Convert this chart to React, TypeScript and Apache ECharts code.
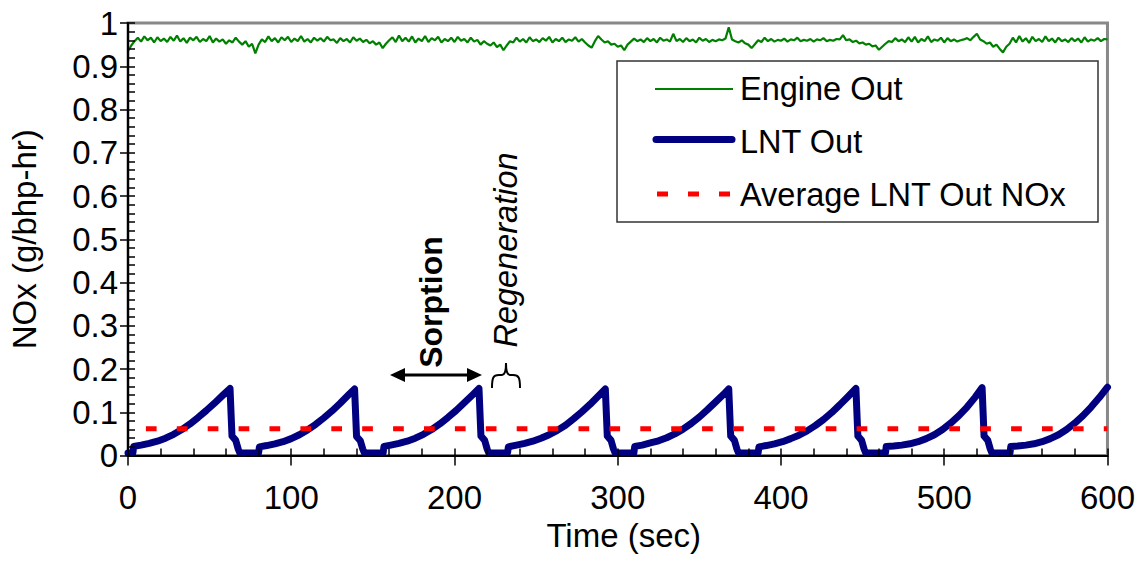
import React, { useEffect, useRef } from "react";
import * as echarts from "echarts";

// ---------- data ----------
const X_MIN = 0;
const X_MAX = 600;
const X_INTERVAL = 100;
const Y_MIN = 0;
const Y_MAX = 1;
const Y_INTERVAL = 0.1;

const SERIES_NAMES = ["Engine Out", "LNT Out", "Average LNT Out NOx"];

// Engine-out NOx, sampled every ENGINE_STEP seconds from t = 0
const ENGINE_STEP = 2;
const ENGINE_OUT = [
  0.935, 0.948, 0.958, 0.966, 0.957, 0.969, 0.960, 0.966, 0.955, 0.967,
  0.958, 0.964, 0.956, 0.968, 0.959, 0.971, 0.957, 0.965, 0.954, 0.966,
  0.960, 0.968, 0.956, 0.963, 0.958, 0.970, 0.955, 0.964, 0.957, 0.962,
  0.952, 0.960, 0.955, 0.966, 0.957, 0.950, 0.958, 0.945, 0.952, 0.930,
  0.950, 0.962, 0.956, 0.969, 0.958, 0.965, 0.955, 0.967, 0.960, 0.968,
  0.956, 0.964, 0.958, 0.970, 0.957, 0.963, 0.955, 0.966, 0.959, 0.965,
  0.957, 0.968, 0.960, 0.962, 0.954, 0.965, 0.958, 0.963, 0.955, 0.967,
  0.959, 0.964, 0.956, 0.961, 0.953, 0.958, 0.950, 0.955, 0.942, 0.952,
  0.960, 0.967, 0.956, 0.971, 0.958, 0.966, 0.957, 0.969, 0.955, 0.964,
  0.958, 0.970, 0.956, 0.965, 0.960, 0.968, 0.955, 0.963, 0.958, 0.966,
  0.956, 0.968, 0.959, 0.963, 0.955, 0.966, 0.957, 0.961, 0.950, 0.958,
  0.952, 0.948, 0.955, 0.944, 0.950, 0.937, 0.948, 0.958, 0.955, 0.966,
  0.957, 0.963, 0.955, 0.967, 0.958, 0.962, 0.956, 0.965, 0.959, 0.968,
  0.955, 0.963, 0.958, 0.966, 0.956, 0.962, 0.959, 0.967, 0.957, 0.963,
  0.955, 0.948, 0.943, 0.958, 0.970, 0.962, 0.955, 0.958, 0.950, 0.952,
  0.945, 0.948, 0.937, 0.950, 0.957, 0.964, 0.958, 0.962, 0.956, 0.965,
  0.958, 0.963, 0.955, 0.966, 0.959, 0.962, 0.957, 0.975, 0.958, 0.963,
  0.956, 0.965, 0.958, 0.962, 0.955, 0.966, 0.959, 0.963, 0.956, 0.961,
  0.958, 0.962, 0.960, 0.964, 0.990, 0.962, 0.958, 0.955, 0.960, 0.953,
  0.950, 0.942, 0.951, 0.960, 0.956, 0.966, 0.958, 0.963, 0.957, 0.961,
  0.959, 0.964, 0.957, 0.962, 0.960, 0.966, 0.958, 0.961, 0.959, 0.963,
  0.957, 0.962, 0.960, 0.965, 0.958, 0.961, 0.959, 0.963, 0.962, 0.972,
  0.960, 0.962, 0.956, 0.959, 0.953, 0.955, 0.950, 0.952, 0.946, 0.948,
  0.938, 0.945, 0.952, 0.958, 0.956, 0.965, 0.958, 0.962, 0.956, 0.967,
  0.957, 0.968, 0.955, 0.963, 0.958, 0.969, 0.956, 0.962, 0.959, 0.966,
  0.955, 0.965, 0.958, 0.962, 0.957, 0.960, 0.962, 0.965, 0.960, 0.968,
  0.975, 0.962, 0.958, 0.952, 0.955, 0.945, 0.950, 0.940, 0.932, 0.945,
  0.952, 0.966, 0.955, 0.970, 0.957, 0.965, 0.954, 0.968, 0.958, 0.963,
  0.956, 0.969, 0.958, 0.964, 0.955, 0.966, 0.958, 0.962, 0.956, 0.965,
  0.958, 0.964, 0.955, 0.967, 0.957, 0.962, 0.959, 0.965, 0.958, 0.963,
  0.962,
];

// LNT-out NOx, [time s, value] for each sorption / regeneration cycle
const LNT_CYCLE_1 = [
  [0, 0.006], [3, 0.006], [3.5, 0.021], [8, 0.024], [13, 0.028], [18, 0.033],
  [23, 0.040], [28, 0.049], [33, 0.060], [38, 0.073], [43, 0.088], [48, 0.104],
  [53, 0.121], [58, 0.139], [62.5, 0.155], [63.7, 0.045], [66, 0.035], [67.5, 0.015], [68.5, 0.006],
];
const LNT_CYCLE_2 = [
  [80, 0.006], [80.5, 0.020], [85, 0.023], [90, 0.027], [95, 0.032], [100, 0.039],
  [105, 0.048], [110, 0.059], [115, 0.072], [120, 0.087], [125, 0.103], [130, 0.121],
  [135, 0.140], [138.8, 0.154], [140, 0.044], [142.3, 0.034], [143.8, 0.015], [144.8, 0.006],
];
const LNT_CYCLE_3 = [
  [156.3, 0.006], [156.8, 0.021], [161, 0.024], [166, 0.028], [171, 0.033], [176, 0.040],
  [181, 0.049], [186, 0.060], [191, 0.073], [196, 0.088], [201, 0.104], [206, 0.122],
  [211, 0.140], [215, 0.155], [216.2, 0.045], [218.5, 0.035], [220, 0.015], [221, 0.006],
];
const LNT_CYCLE_4 = [
  [232.5, 0.006], [233, 0.020], [238, 0.024], [243, 0.028], [248, 0.033], [253, 0.040],
  [258, 0.048], [263, 0.058], [268, 0.070], [273, 0.085], [278, 0.101], [283, 0.118],
  [288, 0.137], [292.4, 0.154], [293.6, 0.045], [295.9, 0.035], [297.4, 0.015], [298.4, 0.006],
];
const LNT_CYCLE_5 = [
  [309.9, 0.006], [310.4, 0.021], [315, 0.024], [320, 0.029], [325, 0.034], [330, 0.041],
  [335, 0.050], [340, 0.061], [345, 0.074], [350, 0.089], [355, 0.106], [360, 0.124],
  [365, 0.142], [368, 0.154], [369.2, 0.045], [371.5, 0.035], [373, 0.015], [374, 0.006],
];
const LNT_CYCLE_6 = [
  [386, 0.006], [386.5, 0.020], [391, 0.023], [396, 0.027], [401, 0.032], [406, 0.039],
  [411, 0.047], [416, 0.057], [421, 0.069], [426, 0.083], [431, 0.099], [436, 0.117],
  [441, 0.136], [445.9, 0.155], [447.1, 0.045], [449.4, 0.035], [450.9, 0.015], [451.9, 0.006],
];
const LNT_CYCLE_7 = [
  [464, 0.006], [464.5, 0.021], [469, 0.022], [474, 0.024], [479, 0.027], [484, 0.032],
  [489, 0.039], [494, 0.048], [499, 0.060], [504, 0.075], [509, 0.092], [514, 0.112],
  [519, 0.135], [523.2, 0.157], [524.4, 0.045], [526.7, 0.035], [528.2, 0.015], [529.2, 0.006],
];
const LNT_CYCLE_8 = [
  [540.3, 0.006], [540.8, 0.021], [545, 0.022], [550, 0.024], [555, 0.027], [560, 0.032],
  [565, 0.039], [570, 0.048], [575, 0.060], [580, 0.075], [585, 0.092], [590, 0.112],
  [595, 0.134], [600, 0.158],
];
const LNT_CYCLES = [
  LNT_CYCLE_1, LNT_CYCLE_2, LNT_CYCLE_3, LNT_CYCLE_4,
  LNT_CYCLE_5, LNT_CYCLE_6, LNT_CYCLE_7, LNT_CYCLE_8,
];

// Average LNT-out NOx
const AVERAGE_LNT_OUT = 0.062;

// ---------- styling ----------
const FONT = "'Liberation Sans', Arial, Helvetica, sans-serif";
const GREEN = "#008000";
const NAVY = "#000080";
const RED = "#FF0000";

export default function App() {
  const ref = useRef<HTMLDivElement>(null);

  useEffect(() => {
    document.body.style.margin = "0";
    if (!ref.current) return;
    const chart = echarts.init(ref.current, null, { renderer: "svg" });

    const engineData = ENGINE_OUT.map((v, i) => [i * ENGINE_STEP, v]);
    const lntData: number[][] = [];
    LNT_CYCLES.forEach((c) => c.forEach((p) => lntData.push(p)));
    const avgData = [
      [X_MIN, AVERAGE_LNT_OUT],
      [X_MAX, AVERAGE_LNT_OUT],
    ];

    echarts.graphic.registerShape(
      "brace",
      echarts.graphic.extendPath(
        "M0,25 C0,15 1,12 7,12 L10,12 C13,12 14,8 14,0 C14,8 15,12 18,12 L21,12 C27,12 28,15 28,25",
        {}
      )
    );

    const tickLine = { color: "#000", width: 1.5 };
    const labelStyle = { color: "#000", fontSize: 33, fontFamily: FONT };
    const nameStyle = { color: "#000", fontSize: 33, fontFamily: FONT };
    const legendText = { fill: "#000", fontSize: 32.5, fontFamily: FONT, align: "left", verticalAlign: "middle" };

    const option: any = {
      animation: false,
      backgroundColor: "#fff",
      grid: {
        left: 127.5,
        right: 29,
        top: 23,
        bottom: 108.5,
        show: true,
        borderColor: "#888",
        borderWidth: 3,
        backgroundColor: "transparent",
      },
      xAxis: [
        {
          type: "value",
          min: X_MIN,
          max: X_MAX,
          interval: X_INTERVAL,
          position: "bottom",
          axisLine: { show: true, lineStyle: { color: "#000", width: 2 } },
          axisTick: { show: true, inside: true, length: 7, lineStyle: tickLine },
          minorTick: { show: true, splitNumber: 5, length: 7, lineStyle: tickLine },
          axisLabel: { show: false },
          splitLine: { show: false },
          minorSplitLine: { show: false },
          name: "Time (sec)",
          nameLocation: "middle",
          nameGap: 63,
          nameTextStyle: { ...nameStyle, padding: [0, 0, 0, 12] },
          z: 5,
        },
        {
          type: "value",
          min: X_MIN,
          max: X_MAX,
          interval: X_INTERVAL,
          position: "bottom",
          axisLine: { show: false },
          axisTick: { show: true, inside: false, length: 10, lineStyle: tickLine },
          axisLabel: { show: true, margin: 25, ...labelStyle },
          splitLine: { show: false },
          z: 5,
        },
      ],
      yAxis: [
        {
          type: "value",
          min: Y_MIN,
          max: Y_MAX,
          interval: Y_INTERVAL,
          position: "left",
          axisLine: { show: true, lineStyle: { color: "#000", width: 2 } },
          axisTick: { show: true, inside: true, length: 7, lineStyle: tickLine },
          minorTick: { show: true, splitNumber: 5, length: 7, lineStyle: tickLine },
          axisLabel: { show: false },
          splitLine: { show: false },
          minorSplitLine: { show: false },
          name: "NOx (g/bhp-hr)",
          nameLocation: "middle",
          nameGap: 87,
          nameTextStyle: nameStyle,
          z: 5,
        },
        {
          type: "value",
          min: Y_MIN,
          max: Y_MAX,
          interval: Y_INTERVAL,
          position: "left",
          axisLine: { show: false },
          axisTick: { show: true, inside: false, length: 8, lineStyle: tickLine },
          axisLabel: { show: true, margin: 10, ...labelStyle },
          splitLine: { show: false },
          z: 5,
        },
      ],
      series: [
        {
          name: SERIES_NAMES[0],
          type: "line",
          data: engineData,
          showSymbol: false,
          symbol: "none",
          lineStyle: { color: GREEN, width: 2.2 },
          itemStyle: { color: GREEN },
          z: 2,
        },
        {
          name: SERIES_NAMES[1],
          type: "line",
          data: lntData,
          showSymbol: false,
          symbol: "none",
          lineStyle: { color: NAVY, width: 7, join: "round", cap: "round" },
          itemStyle: { color: NAVY },
          z: 3,
        },
        {
          name: SERIES_NAMES[2],
          type: "line",
          data: avgData,
          showSymbol: false,
          symbol: "none",
          lineStyle: { color: RED, width: 5, type: [10.7, 20.2], dashOffset: 13.4, cap: "butt" },
          itemStyle: { color: RED },
          z: 4,
        },
      ],
      graphic: [
        // legend
        {
          type: "rect",
          z: 100,
          shape: { x: 617, y: 61, width: 481, height: 161 },
          style: { fill: "#fff", stroke: "#333", lineWidth: 1.5 },
        },
        {
          type: "line",
          z: 101,
          shape: { x1: 655, y1: 89, x2: 733, y2: 89 },
          style: { stroke: GREEN, lineWidth: 2.2 },
        },
        {
          type: "line",
          z: 101,
          shape: { x1: 656, y1: 139.5, x2: 732, y2: 139.5 },
          style: { stroke: NAVY, lineWidth: 7, lineCap: "round" },
        },
        {
          type: "line",
          z: 101,
          shape: { x1: 657, y1: 194, x2: 730, y2: 194 },
          style: { stroke: RED, lineWidth: 5, lineDash: [11, 20] },
        },
        { type: "text", z: 101, x: 740, y: 89, style: { text: SERIES_NAMES[0], ...legendText } },
        { type: "text", z: 101, x: 740, y: 142, style: { text: SERIES_NAMES[1], ...legendText } },
        { type: "text", z: 101, x: 740, y: 195, style: { text: SERIES_NAMES[2], ...legendText } },
        // Sorption annotation
        {
          type: "text",
          z: 101,
          x: 431,
          y: 302,
          rotation: Math.PI / 2,
          style: { text: "Sorption", fill: "#000", fontSize: 32, fontWeight: "bold", fontFamily: FONT, align: "center", verticalAlign: "middle" },
        },
        {
          type: "line",
          z: 101,
          shape: { x1: 400, y1: 375, x2: 472, y2: 375 },
          style: { stroke: "#000", lineWidth: 3 },
        },
        {
          type: "polygon",
          z: 101,
          shape: { points: [[390, 375], [405, 368], [405, 382]] },
          style: { fill: "#000" },
        },
        {
          type: "polygon",
          z: 101,
          shape: { points: [[482, 375], [467, 368], [467, 382]] },
          style: { fill: "#000" },
        },
        // Regeneration annotation
        {
          type: "text",
          z: 101,
          x: 506,
          y: 250,
          rotation: Math.PI / 2,
          style: { text: "Regeneration", fill: "#000", fontSize: 32.5, fontStyle: "italic", fontFamily: FONT, align: "center", verticalAlign: "middle" },
        },
        {
          type: "brace",
          z: 101,
          x: 492,
          y: 363,
          scaleX: 1,
          scaleY: 1,
          style: { stroke: "#000", fill: "none", lineWidth: 2 },
        },
      ],
    };

    chart.setOption(option);
    return () => chart.dispose();
  }, []);

  return <div ref={ref} style={{ width: 1138, height: 564 }} />;
}
